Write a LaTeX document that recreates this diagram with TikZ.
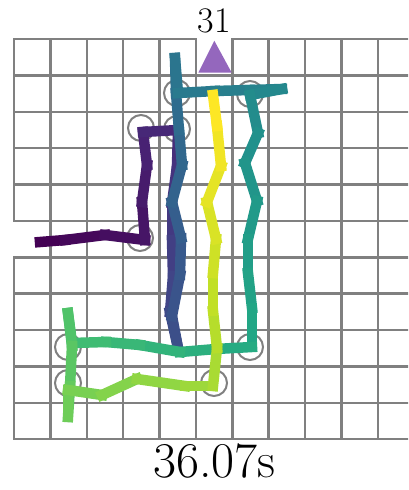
\documentclass[tikz,border=0pt]{standalone}
\usepackage{fontspec}
\definecolor{vir0}{HTML}{440154}
\definecolor{vir1}{HTML}{482475}
\definecolor{vir2}{HTML}{414487}
\definecolor{vir3}{HTML}{355F8D}
\definecolor{vir4}{HTML}{2A788E}
\definecolor{vir5}{HTML}{21918C}
\definecolor{vir6}{HTML}{22A884}
\definecolor{vir7}{HTML}{44BF70}
\definecolor{vir8}{HTML}{7AD151}
\definecolor{vir9}{HTML}{BDDF26}
\definecolor{vir10}{HTML}{FDE725}
\definecolor{gridgray}{HTML}{808080}
\definecolor{goalpurple}{HTML}{9467BD}
\tikzset{
  gridline/.style={draw=gridgray, line width=2.5pt, line cap=rect},
  marker/.style={draw=gridgray, line width=2pt},
  trail/.style={line width=10.5pt, line cap=rect},
}
\begin{document}
\begin{tikzpicture}[x=1pt,y=-1pt]
\useasboundingbox (0,0) rectangle (408,490);
\begin{scope}
\clip (0,0) rectangle (408,490);
\foreach \j in {1,...,11} \draw[gridline] (14,{39+36.38*\j}) -- (420,{39+36.38*\j});
\draw[gridline] (14,39) -- (195.9,39);
\draw[gridline] (232.3,39) -- (420,39);
\foreach \i in {1,...,11} \draw[gridline] ({14+36.38*\i},39) -- ({14+36.38*\i},439.2);
\draw[gridline] (14,39) -- (14,220.9);
\draw[gridline] (14,257.3) -- (14,439.2);
\end{scope}
\foreach \x/\y in {177/93, 250/94, 141/128, 177/129, 140/238, 68/347, 68/383, 214/383, 250/347}
  \draw[marker] (\x,\y) circle[radius=13pt];
\fill[goalpurple] (198.3,72.7) -- (231.7,72.7) -- (214.3,40.7) -- cycle;
\foreach \x/\y [count=\k from 0, remember=\x as \px (initially 40), remember=\y as \py (initially 242)] in
  {65/240, 105/235, 145/240, 142/202, 147/165, 143/132, 178/130,
   177/166, 172/203, 172/240, 173/276, 170/312, 178/348,
   172/316, 180/275, 181/238, 172/202, 182/165, 179/130, 176/93, 175/58,
   178/93, 215/91, 250/90, 282/89, 250/95,
   258/133, 245/163, 257/201, 248/239, 248/273, 252/308, 252/347,
   216/349, 180/352, 140/345, 106/342, 72/343,
   68/313, 72/346, 70/386, 68/417, 68/390,
   102/395, 137/379, 185/386, 213/386,
   217/348, 213/311, 213/273, 216/239, 207/202, 221/166, 217/126, 213/95}
{
  \pgfmathsetmacro{\tval}{\k*10/54}
  \pgfmathtruncatemacro{\ii}{floor(\tval)}
  \pgfmathtruncatemacro{\jj}{min(\ii+1,10)}
  \pgfmathtruncatemacro{\ww}{round(100*(1+\ii-\tval))}
  \colorlet{segc}{vir\ii!\ww!vir\jj}
  \draw[trail, draw=segc] (\px,\py) -- (\x,\y);
}
\node[anchor=base, inner sep=0pt, font=\fontsize{36}{40}\selectfont] (steplabel) at (214,32) {31};
\node[anchor=base, inner sep=0pt, font=\fontsize{50}{56}\selectfont] (timelabel) at (214.5,477) {36.07s};
\end{tikzpicture}
\end{document}
